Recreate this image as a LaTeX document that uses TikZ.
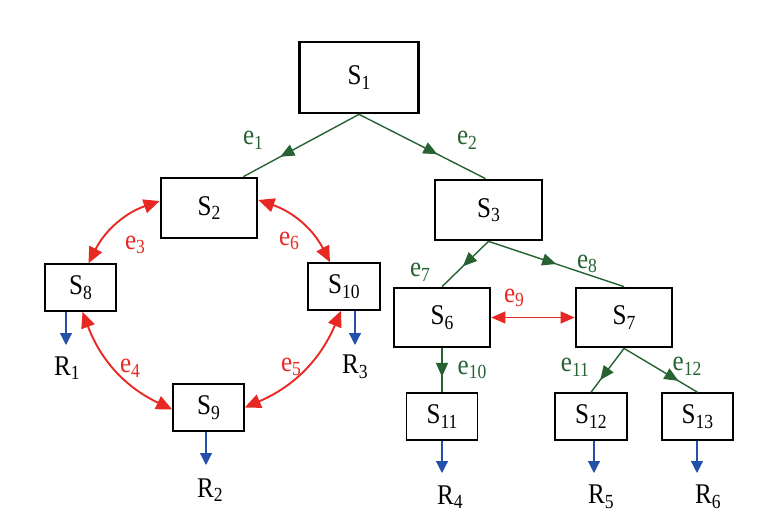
\documentclass[tikz,border=0pt]{standalone}
\usepackage{fontspec}
\setmainfont{Liberation Serif}[FakeStretch=0.88]
\usetikzlibrary{arrows.meta,decorations.markings,calc}
\definecolor{egreen}{RGB}{38,98,50}
\definecolor{ered}{RGB}{232,40,35}
\definecolor{eblue}{RGB}{35,80,170}
\newcommand\subx[1]{\raisebox{-0.35ex}{\fontsize{20}{22}\selectfont #1}}
\begin{document}
\begin{tikzpicture}[x=1pt,y=-1pt,font=\fontsize{28.5}{30}\selectfont,
  thickbox/.style={draw, line width=2.7pt, inner sep=0pt},
  thinbox/.style={draw, line width=1.5pt, inner sep=0pt},
  gedge/.style={color=egreen, line width=1.4pt, postaction={decorate},
    decoration={markings, mark=at position #1 with {\arrow{Triangle[length=14pt,width=12pt]}}}},
  redge/.style={color=ered, line width=1.9pt, arrows={Triangle[length=16pt,width=14pt]-Triangle[length=16pt,width=14pt]}},
  rthin/.style={color=ered, line width=1.2pt, arrows={Triangle[length=14pt,width=12pt]-Triangle[length=14pt,width=12pt]}},
  bedge/.style={color=eblue, line width=1.2pt, -{Triangle[length=12pt,width=12pt]}},
  glab/.style={text=egreen, inner sep=0pt},
  rlab/.style={text=ered, inner sep=0pt},
  klab/.style={text=black, inner sep=0pt}]
\useasboundingbox (0,0) rectangle (763,532);
% boxes
\node[thickbox, minimum width=119pt, minimum height=71pt] (S1) at (359,77.5) {S\subx{1}};
\node[thickbox, minimum width=96pt, minimum height=60pt] (S2) at (209,208) {S\subx{2}};
\node[thickbox, minimum width=107pt, minimum height=60pt] (S3) at (488.5,210) {S\subx{3}};
\node[thickbox, minimum width=96pt, minimum height=59pt] (S6) at (442,317.5) {S\subx{6}};
\node[thickbox, minimum width=96pt, minimum height=59pt] (S7) at (624,317.5) {S\subx{7}};
\node[thinbox, minimum width=71pt, minimum height=47pt] (S8) at (80.5,287.5) {S\subx{8}};
\node[thinbox, minimum width=72pt, minimum height=47pt] (S10) at (344,286.5) {S\subx{10}};
\node[thinbox, minimum width=71pt, minimum height=47pt] (S9) at (208.5,407.5) {S\subx{9}};
\node[thinbox, minimum width=71pt, minimum height=47pt] (S11) at (442,416.5) {S\subx{11}};
\node[thinbox, minimum width=72pt, minimum height=47pt] (S12) at (591,416.5) {S\subx{12}};
\node[thinbox, minimum width=71pt, minimum height=47pt] (S13) at (697.5,416.5) {S\subx{13}};
% green edges
\draw[gedge=0.68] (S1.south) -- ([xshift=-15pt]S2.north east);
\draw[gedge=0.62] (S1.south) -- ([xshift=-3pt]S3.north);
\draw[gedge=0.55] (S3.south) -- (S6.north);
\draw[gedge=0.5] (S3.south) -- (S7.north);
\draw[gedge=0.65] (S6.south) -- (S11.north);
\draw[gedge=0.72] (S7.south) -- (S12.north);
\draw[gedge=0.74] (S7.south) -- (S13.north);
% red edges
\draw[redge] ([yshift=7pt]S2.west) to[bend right=22] ([xshift=8pt]S8.north);
\draw[redge] ([yshift=8pt]S2.east) to[bend left=22] ([xshift=-14pt]S10.north);
\draw[redge] ([xshift=2pt]S8.south) to[bend right=22] ([yshift=-2pt]S9.west);
\draw[redge] ([xshift=-3pt]S10.south) to[bend left=22] (S9.east);
\draw[rthin] (S6.east) -- (S7.west);
% blue outputs
\coordinate (o1) at (66,345);
\coordinate (o3) at (355,345);
\coordinate (o2) at (206,465);
\coordinate (o4) at (442,473);
\coordinate (o5) at (594,473);
\coordinate (o6) at (697,473);
\draw[bedge] (S8.south -| o1) -- (o1);
\draw[bedge] (S10.south -| o3) -- (o3);
\draw[bedge] (S9.south -| o2) -- (o2);
\draw[bedge] (S11.south -| o4) -- (o4);
\draw[bedge] (S12.south -| o5) -- (o5);
\draw[bedge] (S13.south -| o6) -- (o6);
% edge labels
\node[glab] (l1) at (253,140) {e\subx{1}};
\node[glab] (l2) at (467,140) {e\subx{2}};
\node[rlab] (l3) at (135,245) {e\subx{3}};
\node[rlab] (l6) at (289,241) {e\subx{6}};
\node[rlab] (l4) at (130,368) {e\subx{4}};
\node[rlab] (l5) at (291,367) {e\subx{5}};
\node[glab] (l7) at (420,272) {e\subx{7}};
\node[glab] (l8) at (587,264) {e\subx{8}};
\node[rlab] (l9) at (514,298) {e\subx{9}};
\node[glab] (l10) at (472,370) {e\subx{10}};
\node[glab] (l11) at (575,367) {e\subx{11}};
\node[glab] (l12) at (687,366) {e\subx{12}};
% output labels
\node[klab] (R1) at (67,368) {R\subx{1}};
\node[klab] (R3) at (355,367) {R\subx{3}};
\node[klab] (R2) at (210,490) {R\subx{2}};
\node[klab] (R4) at (450,497) {R\subx{4}};
\node[klab] (R5) at (601,497) {R\subx{5}};
\node[klab] (R6) at (708,497) {R\subx{6}};
\end{tikzpicture}
\end{document}
